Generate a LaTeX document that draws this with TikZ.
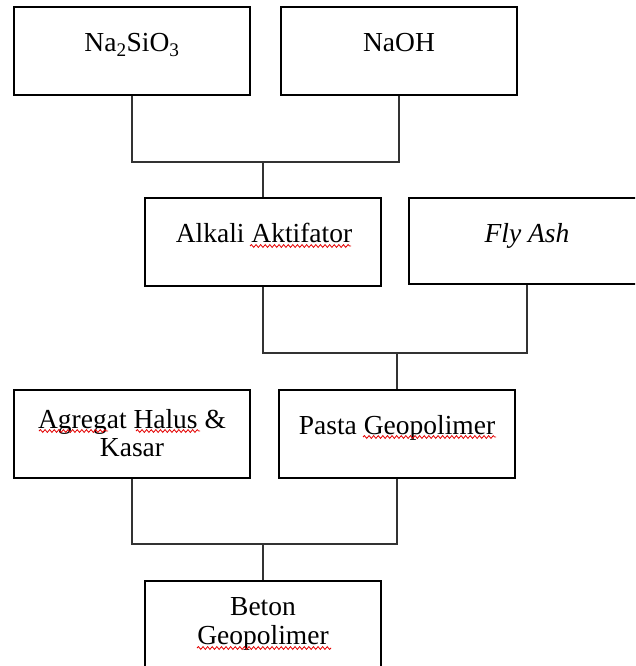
\documentclass[tikz,border=0pt]{standalone}
\usepackage{fontspec}
\setmainfont{Liberation Serif}
\usetikzlibrary{decorations.pathmorphing}
\tikzset{
  box/.style={draw=black, line width=2pt, minimum width=236pt, minimum height=88pt, inner sep=0pt},
  lbl/.style={anchor=base, inner sep=0pt, font=\fontsize{27.5}{29}\selectfont},
  conn/.style={draw=black!80, line width=1.3pt},
  wave/.style={draw=red!90!black, line width=0.8pt, decorate,
    decoration={snake, amplitude=1.4pt, segment length=4.6pt}}
}
\begin{document}
\begin{tikzpicture}[x=1pt,y=-1pt]
\clip (0,0) rectangle (635,666);
\fill[white] (0,0) rectangle (635,666);
% boxes
\node[box] (na) at (132,51) {};
\node[box] (naoh) at (399,51) {};
\node[box] (alk) at (263,242) {};
\node[box, minimum height=86pt] (fly) at (527,241) {};
\node[box] (agr) at (132,434) {};
\node[box] (pasta) at (397,434) {};
\node[box, minimum height=86pt] (beton) at (263,624) {};
% texts
\node[lbl] (tna) at (132,52) {Na\textsubscript{2}SiO\textsubscript{3}};
\node[lbl] (tnaoh) at (399,52) {NaOH};
\node[lbl] (talk) at (264,242) {Alkali Aktifator};
\node[lbl] (tfly) at (527,242) {\itshape Fly Ash};
\node[lbl] (tagr1) at (132,428) {Agregat Halus \&};
\node[lbl] (tagr2) at (132,456) {Kasar};
\node[lbl] (tpasta) at (397,434) {Pasta Geopolimer};
\node[lbl] (tbet1) at (263,615) {Beton};
\node[lbl] (tbet2) at (263,644) {Geopolimer};
% junctions
\coordinate (j1) at (alk.north |- 0,162);
\coordinate (j2) at (pasta.north |- 0,353);
\coordinate (j3) at (beton.north |- 0,544);
% connectors
\draw[conn] (na.south) |- (j1) -| (naoh.south);
\draw[conn] (j1) -- (alk.north);
\draw[conn] (alk.south) |- (j2) -| (fly.south);
\draw[conn] (j2) -- (pasta.north);
\draw[conn] (agr.south) |- (j3) -| (pasta.south);
\draw[conn] (j3) -- (beton.north);
% spelling underlines
\draw[wave] (250,246) -- (351,246);
\draw[wave] (39,431) -- (108,431);
\draw[wave] (136,431) -- (200,431);
\draw[wave] (363,437) -- (496,437);
\draw[wave] (197,648) -- (331,648);
\end{tikzpicture}
\end{document}
